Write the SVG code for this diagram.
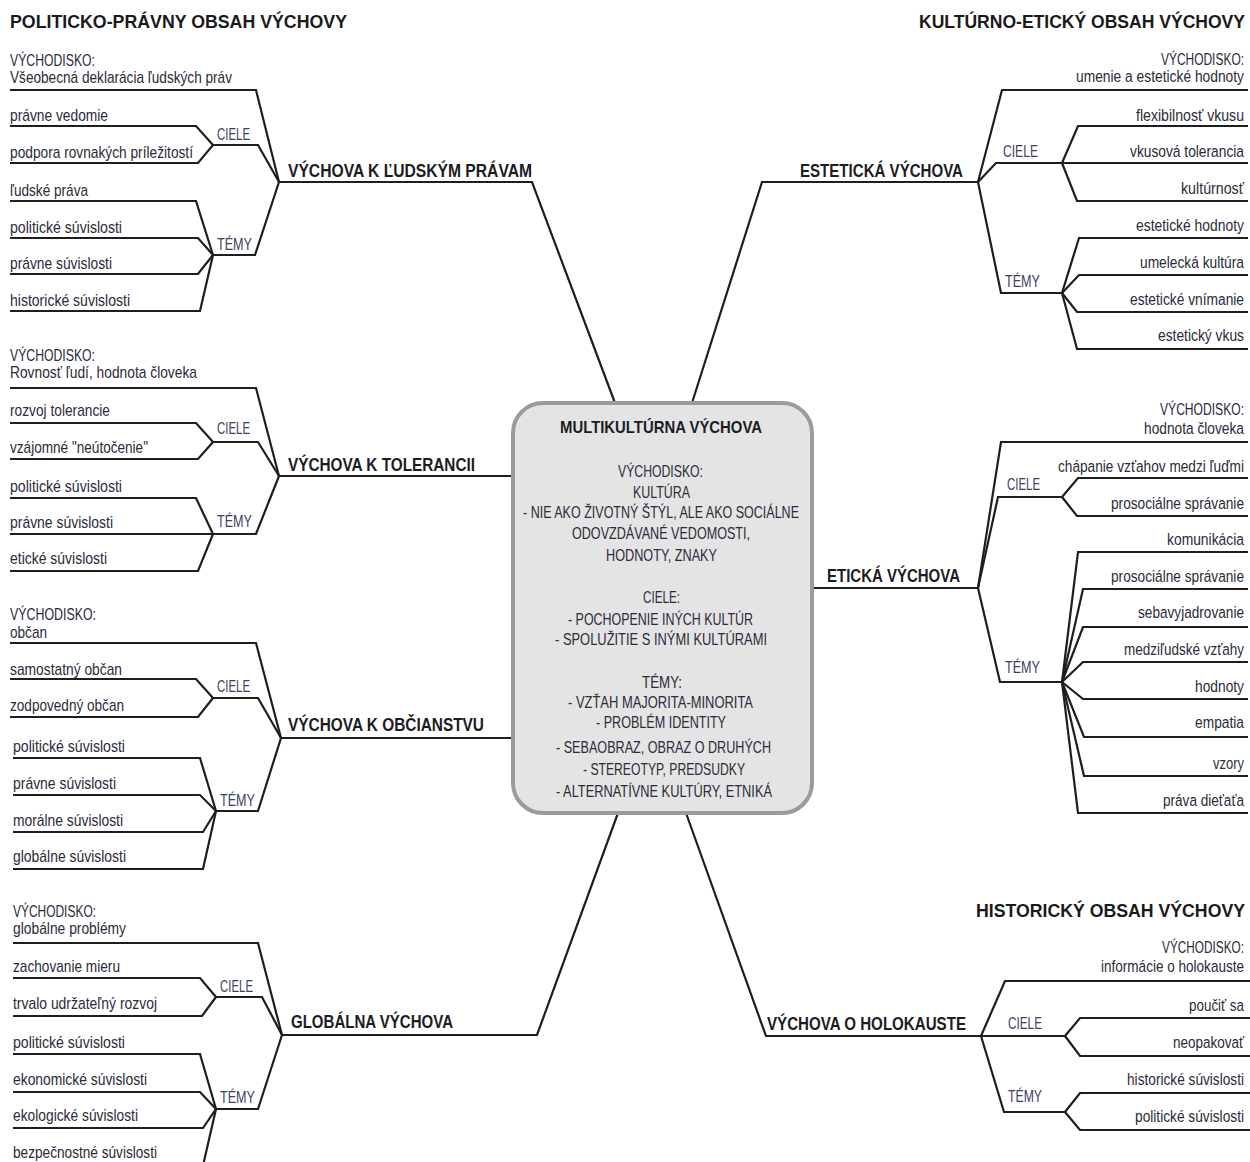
<svg xmlns="http://www.w3.org/2000/svg" width="1250" height="1162" viewBox="0 0 1250 1162">
<style>
text{font-family:"Liberation Sans",Arial,sans-serif;font-size:17px;fill:#2b2b3a}
.r{text-anchor:end}
.l{fill:#3c4163}
.b{font-weight:bold;font-size:18px;fill:#1c1c24}
.h{font-weight:bold;font-size:19px;fill:#1a1a1a}
.m{font-weight:bold;font-size:17px;fill:#1c1c24}
.c{fill:none;stroke:#1e1e1e;stroke-width:2.2;stroke-linejoin:miter}
.box{fill:#e4e4e4;stroke:#9b9b9b;stroke-width:4}
</style>
<g id="connectors" class="c">
<path d="M10,90 H256 L279,182"/>
<path d="M10,126 H196 L213,145"/>
<path d="M10,163 H198 L213,145"/>
<path d="M213,145 H258 L279,182"/>
<path d="M10,201 H196 L213,255"/>
<path d="M10,238 H198 L213,255"/>
<path d="M10,274 H198 L213,255"/>
<path d="M10,311 H200 L213,255"/>
<path d="M213,255 H255 L279,182"/>
<path d="M279,182 H532 L615,403"/>
<path d="M10,388 H256 L279,476"/>
<path d="M10,423 H196 L213,442"/>
<path d="M10,459 H198 L213,442"/>
<path d="M213,442 H258 L279,476"/>
<path d="M10,498 H196 L213,534"/>
<path d="M10,534 H213"/>
<path d="M10,571 H198 L213,534"/>
<path d="M213,534 H256 L279,476"/>
<path d="M279,476 H513"/>
<path d="M10,643 H256 L281,738"/>
<path d="M10,679 H196 L213,698"/>
<path d="M10,717 H198 L213,698"/>
<path d="M213,698 H258 L281,738"/>
<path d="M13,758 H200 L216,811"/>
<path d="M13,795 H200 L216,811"/>
<path d="M13,832 H203 L216,811"/>
<path d="M13,869 H203 L216,811"/>
<path d="M216,811 H258 L281,738"/>
<path d="M281,738 H513"/>
<path d="M13,943 H258 L282,1035"/>
<path d="M13,978 H200 L216,997"/>
<path d="M13,1016 H202 L216,997"/>
<path d="M216,997 H262 L282,1035"/>
<path d="M13,1054 H200 L216,1109"/>
<path d="M13,1092 H200 L216,1109"/>
<path d="M13,1128 H203 L216,1109"/>
<path d="M216,1109 L202,1170"/>
<path d="M216,1109 H258 L282,1035"/>
<path d="M282,1035 H537 L618,813"/>
<path d="M1248,90 H1002 L978,182"/>
<path d="M1248,126 H1078 L1062,163"/>
<path d="M1248,163 H1062"/>
<path d="M1248,201 H1077 L1062,163"/>
<path d="M1062,163 H996 L978,182"/>
<path d="M1248,238 H1079 L1062,293"/>
<path d="M1248,275 H1079 L1062,293"/>
<path d="M1248,312 H1077 L1062,293"/>
<path d="M1248,349 H1077 L1062,293"/>
<path d="M1062,293 H1001 L978,182"/>
<path d="M978,182 H762 L692,403"/>
<path d="M1248,442 H1001 L978,588"/>
<path d="M1248,478 H1078 L1062,497"/>
<path d="M1248,516 H1077 L1062,497"/>
<path d="M1062,497 H998 L978,588"/>
<path d="M1248,552 H1078 L1062,682"/>
<path d="M1248,589 H1083 L1062,682"/>
<path d="M1248,627 H1083 L1062,682"/>
<path d="M1248,662 H1083 L1062,682"/>
<path d="M1248,699 H1083 L1062,682"/>
<path d="M1248,737 H1084 L1062,682"/>
<path d="M1248,776 H1084 L1062,682"/>
<path d="M1248,813 H1078 L1062,682"/>
<path d="M1062,682 H1000 L978,588"/>
<path d="M978,588 H812"/>
<path d="M1250,981 H1005 L981,1036"/>
<path d="M1250,1018 H1080 L1065,1036"/>
<path d="M1250,1056 H1080 L1065,1036"/>
<path d="M981,1036 H1065"/>
<path d="M1250,1093 H1080 L1065,1112"/>
<path d="M1250,1130 H1080 L1065,1112"/>
<path d="M1065,1112 H1004 L981,1036"/>
<path d="M981,1036 H766 L686,813"/>
</g>

<g id="center">
<rect class="box" x="513" y="403" width="299" height="410" rx="30" ry="30"/>
<text class="m" x="560" y="433" textLength="202" lengthAdjust="spacingAndGlyphs">MULTIKULTÚRNA VÝCHOVA</text>
<text x="618" y="477" textLength="85" lengthAdjust="spacingAndGlyphs">VÝCHODISKO:</text>
<text x="633" y="498" textLength="57" lengthAdjust="spacingAndGlyphs">KULTÚRA</text>
<text x="523" y="518" textLength="276" lengthAdjust="spacingAndGlyphs">- NIE AKO ŽIVOTNÝ ŠTÝL, ALE AKO SOCIÁLNE</text>
<text x="572" y="539" textLength="178" lengthAdjust="spacingAndGlyphs">ODOVZDÁVANÉ VEDOMOSTI,</text>
<text x="606" y="561" textLength="111" lengthAdjust="spacingAndGlyphs">HODNOTY, ZNAKY</text>
<text x="643" y="603" textLength="37" lengthAdjust="spacingAndGlyphs">CIELE:</text>
<text x="568" y="625" textLength="185" lengthAdjust="spacingAndGlyphs">- POCHOPENIE INÝCH KULTÚR</text>
<text x="555" y="645" textLength="212" lengthAdjust="spacingAndGlyphs">- SPOLUŽITIE S INÝMI KULTÚRAMI</text>
<text x="642" y="688" textLength="40" lengthAdjust="spacingAndGlyphs">TÉMY:</text>
<text x="568" y="708" textLength="185" lengthAdjust="spacingAndGlyphs">- VZŤAH MAJORITA-MINORITA</text>
<text x="596" y="728" textLength="130" lengthAdjust="spacingAndGlyphs">- PROBLÉM IDENTITY</text>
<text x="556" y="753" textLength="215" lengthAdjust="spacingAndGlyphs">- SEBAOBRAZ, OBRAZ O DRUHÝCH</text>
<text x="583" y="775" textLength="162" lengthAdjust="spacingAndGlyphs">- STEREOTYP, PREDSUDKY</text>
<text x="556" y="797" textLength="216" lengthAdjust="spacingAndGlyphs">- ALTERNATÍVNE KULTÚRY, ETNIKÁ</text>
</g>

<g id="politicko-pravny">
<text class="h" x="10" y="28" textLength="337" lengthAdjust="spacingAndGlyphs">POLITICKO-PRÁVNY OBSAH VÝCHOVY</text>
</g>

<g id="ludske-prava">
<text class="b" x="288" y="177" textLength="244" lengthAdjust="spacingAndGlyphs">VÝCHOVA K ĽUDSKÝM PRÁVAM</text>
<text x="10" y="66" textLength="85" lengthAdjust="spacingAndGlyphs">VÝCHODISKO:</text>
<text x="10" y="83" textLength="222" lengthAdjust="spacingAndGlyphs">Všeobecná deklarácia ľudských práv</text>
<text class="l" x="217" y="140" textLength="33" lengthAdjust="spacingAndGlyphs">CIELE</text>
<text x="10" y="121" textLength="98" lengthAdjust="spacingAndGlyphs">právne vedomie</text>
<text x="10" y="158" textLength="183" lengthAdjust="spacingAndGlyphs">podpora rovnakých príležitostí</text>
<text class="l" x="217" y="250" textLength="35" lengthAdjust="spacingAndGlyphs">TÉMY</text>
<text x="10" y="196" textLength="78" lengthAdjust="spacingAndGlyphs">ľudské práva</text>
<text x="10" y="233" textLength="112" lengthAdjust="spacingAndGlyphs">politické súvislosti</text>
<text x="10" y="269" textLength="102" lengthAdjust="spacingAndGlyphs">právne súvislosti</text>
<text x="10" y="306" textLength="120" lengthAdjust="spacingAndGlyphs">historické súvislosti</text>
</g>

<g id="tolerancia">
<text class="b" x="288" y="471" textLength="187" lengthAdjust="spacingAndGlyphs">VÝCHOVA K TOLERANCII</text>
<text x="10" y="361" textLength="85" lengthAdjust="spacingAndGlyphs">VÝCHODISKO:</text>
<text x="10" y="378" textLength="187" lengthAdjust="spacingAndGlyphs">Rovnosť ľudí, hodnota človeka</text>
<text class="l" x="217" y="434" textLength="33" lengthAdjust="spacingAndGlyphs">CIELE</text>
<text x="10" y="416" textLength="100" lengthAdjust="spacingAndGlyphs">rozvoj tolerancie</text>
<text x="10" y="453" textLength="138" lengthAdjust="spacingAndGlyphs">vzájomné "neútočenie"</text>
<text class="l" x="217" y="527" textLength="35" lengthAdjust="spacingAndGlyphs">TÉMY</text>
<text x="10" y="492" textLength="112" lengthAdjust="spacingAndGlyphs">politické súvislosti</text>
<text x="10" y="528" textLength="103" lengthAdjust="spacingAndGlyphs">právne súvislosti</text>
<text x="10" y="564" textLength="97" lengthAdjust="spacingAndGlyphs">etické súvislosti</text>
</g>

<g id="obcianstvo">
<text class="b" x="288" y="731" textLength="196" lengthAdjust="spacingAndGlyphs">VÝCHOVA K OBČIANSTVU</text>
<text x="10" y="620" textLength="86" lengthAdjust="spacingAndGlyphs">VÝCHODISKO:</text>
<text x="10" y="638" textLength="37" lengthAdjust="spacingAndGlyphs">občan</text>
<text class="l" x="217" y="692" textLength="33" lengthAdjust="spacingAndGlyphs">CIELE</text>
<text x="10" y="675" textLength="112" lengthAdjust="spacingAndGlyphs">samostatný občan</text>
<text x="10" y="711" textLength="114" lengthAdjust="spacingAndGlyphs">zodpovedný občan</text>
<text class="l" x="220" y="806" textLength="35" lengthAdjust="spacingAndGlyphs">TÉMY</text>
<text x="13" y="752" textLength="112" lengthAdjust="spacingAndGlyphs">politické súvislosti</text>
<text x="13" y="789" textLength="103" lengthAdjust="spacingAndGlyphs">právne súvislosti</text>
<text x="13" y="826" textLength="110" lengthAdjust="spacingAndGlyphs">morálne súvislosti</text>
<text x="13" y="862" textLength="113" lengthAdjust="spacingAndGlyphs">globálne súvislosti</text>
</g>

<g id="globalna">
<text class="b" x="291" y="1028" textLength="162" lengthAdjust="spacingAndGlyphs">GLOBÁLNA VÝCHOVA</text>
<text x="13" y="917" textLength="83" lengthAdjust="spacingAndGlyphs">VÝCHODISKO:</text>
<text x="13" y="934" textLength="113" lengthAdjust="spacingAndGlyphs">globálne problémy</text>
<text class="l" x="220" y="992" textLength="33" lengthAdjust="spacingAndGlyphs">CIELE</text>
<text x="13" y="972" textLength="107" lengthAdjust="spacingAndGlyphs">zachovanie mieru</text>
<text x="13" y="1009" textLength="144" lengthAdjust="spacingAndGlyphs">trvalo udržateľný rozvoj</text>
<text class="l" x="220" y="1103" textLength="35" lengthAdjust="spacingAndGlyphs">TÉMY</text>
<text x="13" y="1048" textLength="112" lengthAdjust="spacingAndGlyphs">politické súvislosti</text>
<text x="13" y="1085" textLength="134" lengthAdjust="spacingAndGlyphs">ekonomické súvislosti</text>
<text x="13" y="1121" textLength="125" lengthAdjust="spacingAndGlyphs">ekologické súvislosti</text>
<text x="13" y="1158" textLength="144" lengthAdjust="spacingAndGlyphs">bezpečnostné súvislosti</text>
</g>

<g id="kulturno-eticky">
<text class="h r" transform="matrix(0.8,0,0,1,1245,0)" x="0" y="28" textLength="407.5" lengthAdjust="spacingAndGlyphs">KULTÚRNO-ETICKÝ OBSAH VÝCHOVY</text>
</g>

<g id="esteticka">
<text class="b" x="800" y="177" textLength="163" lengthAdjust="spacingAndGlyphs">ESTETICKÁ VÝCHOVA</text>
<text class="l" x="1003" y="157" textLength="35" lengthAdjust="spacingAndGlyphs">CIELE</text>
<text class="l" x="1005" y="287" textLength="35" lengthAdjust="spacingAndGlyphs">TÉMY</text>
<text class="r" transform="matrix(0.7,0,0,1,1244,0)" x="0" y="65" textLength="118.6" lengthAdjust="spacingAndGlyphs">VÝCHODISKO:</text>
<g transform="matrix(0.8,0,0,1,1244,0)">
<text class="r" x="0" y="82" textLength="210" lengthAdjust="spacingAndGlyphs">umenie a estetické hodnoty</text>
<text class="r" x="0" y="121" textLength="135" lengthAdjust="spacingAndGlyphs">flexibilnosť vkusu</text>
<text class="r" x="0" y="157" textLength="142.5" lengthAdjust="spacingAndGlyphs">vkusová tolerancia</text>
<text class="r" x="0" y="194" textLength="78.75" lengthAdjust="spacingAndGlyphs">kultúrnosť</text>
<text class="r" x="0" y="231" textLength="135" lengthAdjust="spacingAndGlyphs">estetické hodnoty</text>
<text class="r" x="0" y="268" textLength="130" lengthAdjust="spacingAndGlyphs">umelecká kultúra</text>
<text class="r" x="0" y="305" textLength="142.5" lengthAdjust="spacingAndGlyphs">estetické vnímanie</text>
<text class="r" x="0" y="341" textLength="107.5" lengthAdjust="spacingAndGlyphs">estetický vkus</text>
</g>
</g>

<g id="eticka">
<text class="b" x="827" y="582" textLength="133" lengthAdjust="spacingAndGlyphs">ETICKÁ VÝCHOVA</text>
<text class="l" x="1007" y="490" textLength="33" lengthAdjust="spacingAndGlyphs">CIELE</text>
<text class="l" x="1005" y="673" textLength="35" lengthAdjust="spacingAndGlyphs">TÉMY</text>
<text class="r" transform="matrix(0.7,0,0,1,1244,0)" x="0" y="415" textLength="120" lengthAdjust="spacingAndGlyphs">VÝCHODISKO:</text>
<g transform="matrix(0.8,0,0,1,1244,0)">
<text class="r" x="0" y="434" textLength="125" lengthAdjust="spacingAndGlyphs">hodnota človeka</text>
<text class="r" x="0" y="472" textLength="232.5" lengthAdjust="spacingAndGlyphs">chápanie vzťahov medzi ľuďmi</text>
<text class="r" x="0" y="509" textLength="166.25" lengthAdjust="spacingAndGlyphs">prosociálne správanie</text>
<text class="r" x="0" y="545" textLength="96.25" lengthAdjust="spacingAndGlyphs">komunikácia</text>
<text class="r" x="0" y="582" textLength="166.25" lengthAdjust="spacingAndGlyphs">prosociálne správanie</text>
<text class="r" x="0" y="618" textLength="132.5" lengthAdjust="spacingAndGlyphs">sebavyjadrovanie</text>
<text class="r" x="0" y="655" textLength="150" lengthAdjust="spacingAndGlyphs">medziľudské vzťahy</text>
<text class="r" x="0" y="692" textLength="61.25" lengthAdjust="spacingAndGlyphs">hodnoty</text>
<text class="r" x="0" y="728" textLength="61.25" lengthAdjust="spacingAndGlyphs">empatia</text>
<text class="r" x="0" y="769" textLength="38.75" lengthAdjust="spacingAndGlyphs">vzory</text>
<text class="r" x="0" y="806" textLength="101.25" lengthAdjust="spacingAndGlyphs">práva dieťaťa</text>
</g>
</g>

<g id="historicky">
<text class="h r" transform="matrix(0.8,0,0,1,1245,0)" x="0" y="917" textLength="336.25" lengthAdjust="spacingAndGlyphs">HISTORICKÝ OBSAH VÝCHOVY</text>
</g>

<g id="holokaust">
<text class="b" x="767" y="1030" textLength="199" lengthAdjust="spacingAndGlyphs">VÝCHOVA O HOLOKAUSTE</text>
<text class="l" x="1008" y="1029" textLength="34" lengthAdjust="spacingAndGlyphs">CIELE</text>
<text class="l" x="1008" y="1102" textLength="34" lengthAdjust="spacingAndGlyphs">TÉMY</text>
<text class="r" transform="matrix(0.7,0,0,1,1244,0)" x="0" y="953" textLength="117.1" lengthAdjust="spacingAndGlyphs">VÝCHODISKO:</text>
<g transform="matrix(0.8,0,0,1,1244,0)">
<text class="r" x="0" y="972" textLength="178.75" lengthAdjust="spacingAndGlyphs">informácie o holokauste</text>
<text class="r" x="0" y="1011" textLength="68.75" lengthAdjust="spacingAndGlyphs">poučiť sa</text>
<text class="r" x="0" y="1048" textLength="88.75" lengthAdjust="spacingAndGlyphs">neopakovať</text>
<text class="r" x="0" y="1085" textLength="146.25" lengthAdjust="spacingAndGlyphs">historické súvislosti</text>
<text class="r" x="0" y="1122" textLength="136.25" lengthAdjust="spacingAndGlyphs">politické súvislosti</text>
</g>
</g>
</svg>
